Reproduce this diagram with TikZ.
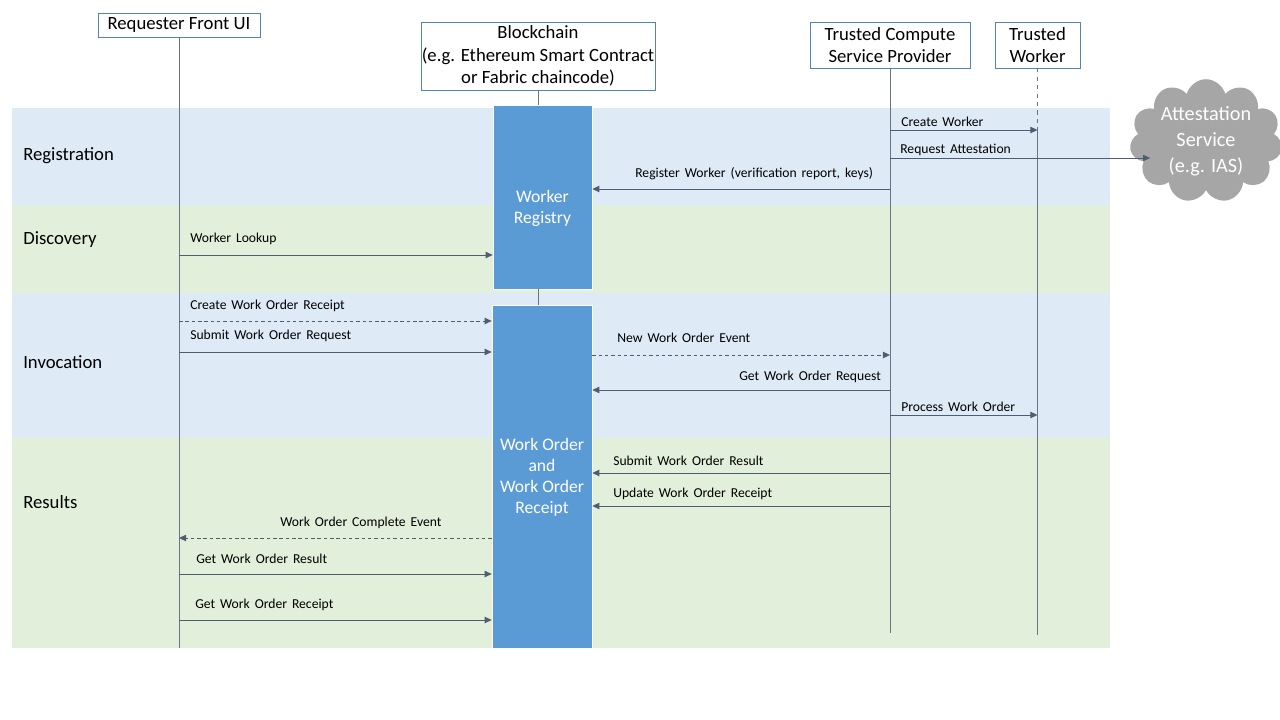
\documentclass[tikz,border=0pt]{standalone}
\usepackage{fontspec}
\setmainfont{Carlito}
\newfontfamily\lblfont[WordSpace=1.6]{Carlito}
\usetikzlibrary{arrows.meta, shapes.symbols, positioning}
\definecolor{bandblue}{HTML}{DEEAF6}
\definecolor{bandgreen}{HTML}{E2EFDA}
\definecolor{barblue}{HTML}{5B9BD5}
\definecolor{hdrline}{HTML}{5485AE}
\definecolor{msgline}{HTML}{4F5D70}
\definecolor{cloudgray}{HTML}{A6A6A6}

\begin{document}
\begin{tikzpicture}[x=0.025cm, y=-0.025cm,
    hdr/.style={draw=hdrline, fill=white, align=center, inner sep=0pt, font=\fontsize{13.3}{16}\selectfont},
    bar/.style={draw=white, fill=barblue, inner sep=0pt},
    bartext/.style={text=white, align=center, inner sep=0pt, font=\fontsize{12.5}{15}\selectfont},
    lifeline/.style={draw=msgline!85, line width=0.7pt},
    msg/.style={draw=msgline, line width=0.7pt, -{Triangle[length=5pt,width=4.5pt]}},
    evt/.style={msg, dash pattern=on 2.5pt off 2pt},
    lbl/.style={anchor=west, inner sep=0pt, font=\lblfont\fontsize{9.7}{11}\selectfont},
    phase/.style={anchor=west, inner sep=0pt, font=\fontsize{13.3}{16}\selectfont}]
    \useasboundingbox (0,0) rectangle (1280,720);

    % phase bands
    \fill[bandblue] (12,108) rectangle (1110,205);
    \fill[bandgreen] (12,205) rectangle (1110,293);
    \fill[bandblue] (12,293) rectangle (1110,438);
    \fill[bandgreen] (12,438) rectangle (1110,648);

    \node[phase] (registration) at (23,156) {Registration};
    \node[phase] (discovery) at (23,240) {Discovery};
    \node[phase] (invocation) at (23,362) {Invocation};
    \node[phase] (results) at (23,502) {Results};

    % participants
    \node[hdr, minimum width=4.05cm, minimum height=0.6cm] (req) at (179,25) {Requester Front UI};
    \node[hdr, minimum width=5.85cm, minimum height=1.7cm] (bc) at (538,56) {Blockchain\\(e.g. Ethereum Smart Contract\\or Fabric chaincode)};
    \node[hdr, minimum width=4cm, minimum height=1.15cm] (tcsp) at (890,45) {Trusted Compute\\Service Provider};
    \node[hdr, minimum width=2.125cm, minimum height=1.15cm] (tw) at (1037.5,45) {Trusted\\Worker};

    \node[bar, minimum width=2.475cm, minimum height=4.6cm] (wreg) at (542.5,197) {};
    \node[bartext] (wreg-txt) at (542.5,208) {Worker\\Registry};
    \node[bar, minimum width=2.5cm, minimum height=8.575cm] (wo) at (542,476.5) {};
    \node[bartext] (wo-txt) at (542,477) {Work Order\\and\\Work Order\\Receipt};

    \node[cloud, cloud puffs=11, aspect=1.4, fill=cloudgray, text=white, align=center, inner sep=0pt,
          minimum width=3.65cm, minimum height=2.7cm, font=\fontsize{14.4}{18.4}\selectfont] (ias) at (1206,141) {Attestation\\Service\\(e.g. IAS)};

    % lifelines
    \draw[lifeline] (req.south) -- (req.south |- 0,648);
    \draw[lifeline] (bc.south) -- (bc.south |- wreg.north);
    \draw[lifeline] (bc.south |- wreg.south) -- (bc.south |- wo.north);
    \draw[lifeline] (tcsp.south) -- (tcsp.south |- 0,633);
    \draw[lifeline, dashed] (tw.south) -- (tw.south |- 0,130) coordinate (twc);
    \draw[lifeline] (twc) -- (tw.south |- 0,635);

    % messages
    \foreach \y/\a/\b/\kind/\lx/\ly/\txt in {
        130/tcsp/tw/msg/901/122/Create Worker,
        189/tcsp/wreg.east/msg/635/174/{Register Worker (verification report, keys)},
        255/req/wreg.west/msg/190/239/Worker Lookup,
        321/req/wo.west/evt/190/306/Create Work Order Receipt,
        352/req/wo.west/msg/190/336/Submit Work Order Request,
        355/wo.east/tcsp/evt/617/338/New Work Order Event,
        390/tcsp/wo.east/msg/739/377/Get Work Order Request,
        415/tcsp/tw/msg/901/407/Process Work Order,
        473/tcsp/wo.east/msg/613/461/Submit Work Order Result,
        506/tcsp/wo.east/msg/613/494/Update Work Order Receipt,
        538/wo.west/req/evt/280/523/Work Order Complete Event,
        574/req/wo.west/msg/196/559/Get Work Order Result,
        620/req/wo.west/msg/195/605/Get Work Order Receipt}
    {
        \draw[\kind] (\a |- 0,\y) -- (\b |- 0,\y);
        \node[lbl] (lbl-\y) at (\lx,\ly) {\txt};
    }

    \draw[msg] (tcsp |- 0,158) -- ([xshift=0.475cm]ias.west |- 0,158);
    \node[lbl] (lbl-att) at (900,150) {Request Attestation};
\end{tikzpicture}
\end{document}
